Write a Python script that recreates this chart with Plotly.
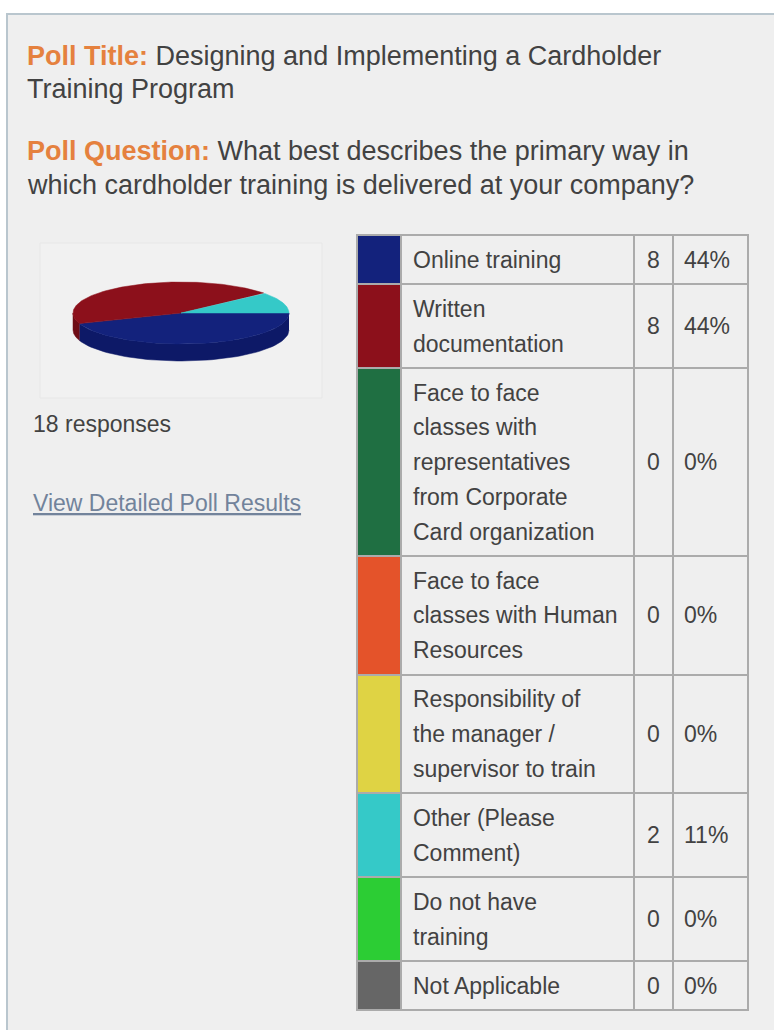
import numpy as np
import plotly.graph_objects as go

# ---------------- data ----------------
categories = [
    "Online training",
    "Written documentation",
    "Face to face classes with representatives from Corporate Card organization",
    "Face to face classes with Human Resources",
    "Responsibility of the manager / supervisor to train",
    "Other (Please Comment)",
    "Do not have training",
    "Not Applicable",
]
label_lines = [
    ["Online training"],
    ["Written", "documentation"],
    ["Face to face", "classes with", "representatives", "from Corporate", "Card organization"],
    ["Face to face", "classes with Human", "Resources"],
    ["Responsibility of", "the manager /", "supervisor to train"],
    ["Other (Please", "Comment)"],
    ["Do not have", "training"],
    ["Not Applicable"],
]
counts = [8, 8, 0, 0, 0, 2, 0, 0]
colors = ["#13227c", "#8c101b", "#1f6f42", "#e4532a", "#dfd344", "#35c9c8", "#2ccd34", "#666666"]
wall_colors = ["#0d1967", "#6e0c15", "#17553a", "#b84322", "#b3a937", "#27a3a2", "#22a52a", "#4d4d4d"]
title_label = "Poll Title:"
title_lines = ["Designing and Implementing a Cardholder", "Training Program"]
question_label = "Poll Question:"
question_lines = ["What best describes the primary way in",
                  "which cardholder training is delivered at your company?"]
link_text = "View Detailed Poll Results"

# ---------------- style / layout constants ----------------
W, H = 774, 1030
FONT = "Liberation Sans, Arial, sans-serif"
TXT = "#424242"
ORANGE = "#e5813e"
PANEL = "#efefef"
GRID = "#ababab"

TABLE_TOP = 235
LINE_H = 34.7
ROW_PAD = 14.5
COL_SW = (357, 401)
COL_LBL = (401, 634)
COL_CNT = (634, 673)
COL_PCT = (673, 748)

PIE_CX, PIE_CY, PIE_RX, PIE_RY, PIE_D = 181, 313, 108, 31, 17

total = sum(counts)
pcts = [round(100 * c / total) for c in counts]

nlines = [len(l) for l in label_lines]
heights = np.array([n * LINE_H + ROW_PAD for n in nlines])
tops = TABLE_TOP + np.concatenate([[0], np.cumsum(heights)[:-1]])
centers = tops + heights / 2

fig = go.Figure()

# ---------------- table cells as bars ----------------
for (x0, x1), fills in [
    (COL_SW, colors),
    (COL_LBL, [PANEL] * len(counts)),
    (COL_CNT, [PANEL] * len(counts)),
    (COL_PCT, [PANEL] * len(counts)),
]:
    fig.add_trace(go.Bar(
        orientation="h",
        y=centers,
        x=[x1 - x0] * len(counts),
        base=[x0] * len(counts),
        width=heights,
        marker=dict(color=fills, line=dict(color=GRID, width=2)),
        hoverinfo="skip",
        showlegend=False,
    ))

# ---------------- 3D-look pie from the counts ----------------
fracs = np.array(counts) / total
ends = np.cumsum(fracs) * 2 * np.pi
starts = ends - fracs * 2 * np.pi

# walls (front half: angles 0..pi, clockwise on screen)
for a, b, c, wc in zip(starts, ends, counts, wall_colors):
    if c == 0:
        continue
    lo, hi = max(a, 0), min(b, np.pi)
    if hi <= lo:
        continue
    t = np.linspace(lo, hi, 60)
    xs = PIE_CX + PIE_RX * np.cos(t)
    ys = PIE_CY + PIE_RY * np.sin(t)
    px = np.concatenate([xs, xs[::-1]])
    py = np.concatenate([ys, (ys + PIE_D)[::-1]])
    fig.add_trace(go.Scatter(x=px, y=py, fill="toself", mode="lines",
                             fillcolor=wc, line=dict(color=wc, width=0.5),
                             hoverinfo="skip", showlegend=False))

# top faces
for a, b, c, col in zip(starts, ends, counts, colors):
    if c == 0:
        continue
    t = np.linspace(a, b, 120)
    px = np.concatenate([[PIE_CX], PIE_CX + PIE_RX * np.cos(t), [PIE_CX]])
    py = np.concatenate([[PIE_CY], PIE_CY + PIE_RY * np.sin(t), [PIE_CY]])
    fig.add_trace(go.Scatter(x=px, y=py, fill="toself", mode="lines",
                             fillcolor=col, line=dict(color=col, width=0.5),
                             hoverinfo="skip", showlegend=False))

# ---------------- texts ----------------
ann = []

def txt(x, y, s, size=23, color=TXT, anchor="left", **kw):
    ann.append(dict(x=x, y=y, xref="x", yref="y", text=s, showarrow=False,
                    xanchor=anchor, yanchor="middle", borderpad=0,
                    font=dict(family=FONT, size=size, color=color, **kw)))

TITLE_SIZE = 27
txt(26, 56, f"<span style='color:{ORANGE}'><b>{title_label}</b></span> {title_lines[0]}", TITLE_SIZE)
txt(26, 89, title_lines[1], TITLE_SIZE)
txt(26, 151, f"<span style='color:{ORANGE}'><b>{question_label}</b></span> {question_lines[0]}", TITLE_SIZE)
txt(26, 185, question_lines[1], TITLE_SIZE)

txt(32, 424, f"{total} responses")
txt(32, 503, link_text, color="#72839b", lineposition="under")

for lines, cy, c, p in zip(label_lines, centers, counts, pcts):
    n = len(lines)
    for k, line in enumerate(lines):
        txt(COL_LBL[0] + 11, cy + (k - (n - 1) / 2) * LINE_H, line)
    txt((COL_CNT[0] + COL_CNT[1]) / 2, cy, str(c), anchor="center")
    txt(COL_PCT[0] + 10, cy, f"{p}%")

fig.update_layout(
    width=W, height=H,
    margin=dict(l=0, r=0, t=0, b=0, pad=0),
    paper_bgcolor="#ffffff",
    plot_bgcolor="#ffffff",
    barmode="overlay",
    bargap=0,
    xaxis=dict(range=[0, W], visible=False, fixedrange=True),
    yaxis=dict(range=[H, 0], visible=False, fixedrange=True),
    annotations=ann,
    shapes=[
        dict(type="rect", xref="x", yref="y", x0=7, y0=14, x1=W + 20, y1=H + 20,
             fillcolor=PANEL, line=dict(color="#b9c6ce", width=2), layer="below"),
        dict(type="rect", xref="x", yref="y", x0=40, y0=243, x1=322, y1=398,
             fillcolor="#f1f1f1", line=dict(color="#e7e7e7", width=1), layer="below"),
    ],
    showlegend=False,
)

fig.write_html("out.html")
